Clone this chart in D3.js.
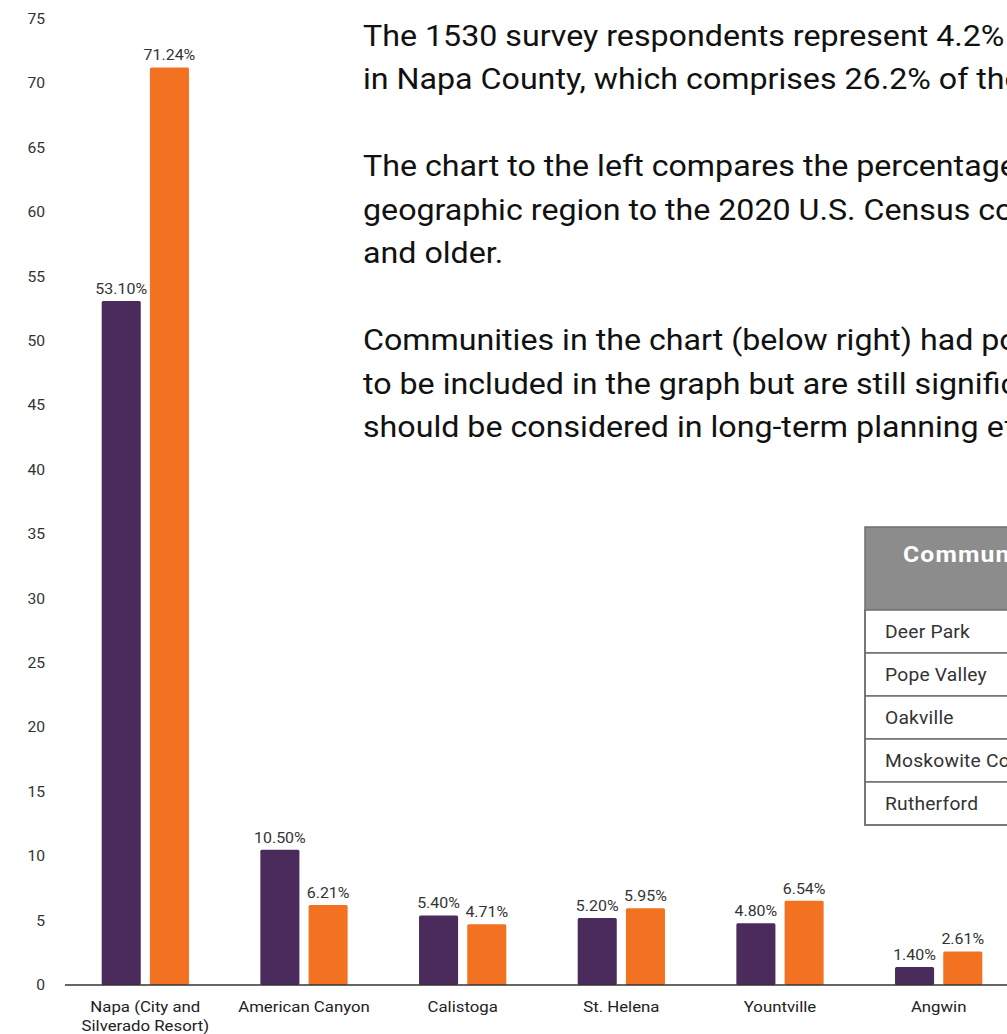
<!DOCTYPE html>
<html>
<head>
<meta charset="utf-8">
<script src="https://cdn.jsdelivr.net/npm/d3@7"></script>
<style>
  html, body { margin: 0; padding: 0; background: #ffffff; overflow: hidden; }
  svg { display: block; font-family: Roboto, "Noto Sans", sans-serif; }
</style>
</head>
<body>
<svg id="chart" width="1007" height="1034"></svg>
<script>
// Communities shown along the x axis
const categories = [
  "Napa (City and\nSilverado Resort)",
  "American Canyon",
  "Calistoga",
  "St. Helena",
  "Yountville",
  "Angwin"
];
// Share of survey respondents (%) by community
const surveyShare = [53.10, 10.50, 5.40, 5.20, 4.80, 1.40];
// Share of 2020 census population (%) by community
const censusShare = [71.24, 6.21, 4.71, 5.95, 6.54, 2.61];
const seriesNames = ["survey", "census"];
const yTicks = [0, 5, 10, 15, 20, 25, 30, 35, 40, 45, 50, 55, 60, 65, 70, 75];

// Smaller communities listed in the side table
const tableHeader = "Communities";
const tableRows = ["Deer Park", "Pope Valley", "Oakville", "Moskowite Corner", "Rutherford"];

// Explanatory paragraphs (line breaks as laid out)
const paragraphs = [
  ["The 1530 survey respondents represent 4.2% of the population aged 60 and older",
   "in Napa County, which comprises 26.2% of the county population."],
  ["The chart to the left compares the percentage of survey respondents in each",
   "geographic region to the 2020 U.S. Census count of county residents aged 60",
   "and older."],
  ["Communities in the chart (below right) had populations too small",
   "to be included in the graph but are still significant and",
   "should be considered in long-term planning efforts."]
];

const W = 1007, H = 1034;
const svg = d3.select("#chart");
const colors = { survey: "#4a2b5c", census: "#f37222" };

// Widen glyphs horizontally, keeping the anchor side fixed
function widen(sel, k, origin) {
  sel.style("transform-box", "fill-box")
     .style("transform-origin", origin + " center")
     .style("transform", `scaleX(${k})`);
}

const rows = categories.map((c, i) => ({ cat: c, survey: surveyShare[i], census: censusShare[i] }));

const y = d3.scaleLinear().domain([0, 75]).range([985, 19]);

const x = d3.scaleBand()
  .domain(categories)
  .range([66, 1018])
  .paddingInner(0.45)
  .paddingOuter(0.225);

const xSub = d3.scaleBand()
  .domain(seriesNames)
  .range([0, x.bandwidth()])
  .paddingInner(0.19);

// Y axis labels (no line, no ticks)
const yAxis = svg.append("g")
  .attr("transform", "translate(46,0)")
  .call(d3.axisLeft(y).tickValues(yTicks).tickSize(0).tickPadding(1).tickFormat(d3.format("d")));
yAxis.select(".domain").remove();
yAxis.selectAll("text")
  .attr("fill", "#333")
  .style("font-size", "14px")
  .style("font-family", "Roboto, sans-serif")
  .call(widen, 1.12, "right");

// Bars
const groups = svg.append("g").selectAll("g")
  .data(rows)
  .join("g")
  .attr("transform", d => `translate(${x(d.cat)},0)`);

groups.selectAll("rect")
  .data(d => seriesNames.map(k => ({ key: k, value: d[k] })))
  .join("rect")
  .attr("x", d => xSub(d.key))
  .attr("width", xSub.bandwidth())
  .attr("y", d => y(d.value))
  .attr("height", d => y(0) - y(d.value))
  .attr("rx", 1.5)
  .attr("fill", d => colors[d.key]);

// Value labels above each bar
groups.selectAll("text.val")
  .data(d => seriesNames.map(k => ({ key: k, value: d[k] })))
  .join("text")
  .attr("class", "val")
  .attr("x", d => xSub(d.key) + xSub.bandwidth() / 2)
  .attr("y", d => y(d.value) - 7)
  .attr("text-anchor", "middle")
  .attr("fill", "#333")
  .style("font-size", "14.5px")
  .text(d => d3.format(".2f")(d.value) + "%")
  .call(widen, 1.1, "center");

// X axis baseline and category labels
svg.append("line")
  .attr("x1", 65).attr("x2", W)
  .attr("y1", y(0)).attr("y2", y(0))
  .attr("stroke", "#333").attr("stroke-width", 1.5);

const xAxis = svg.append("g")
  .attr("transform", `translate(0,${y(0)})`)
  .call(d3.axisBottom(x).tickSize(0).tickPadding(0));
xAxis.select(".domain").remove();
xAxis.selectAll("text")
  .attr("fill", "#222")
  .attr("dy", null)
  .attr("y", 0)
  .style("font-size", "15px")
  .style("font-family", "Roboto, sans-serif")
  .each(function(d) {
    const t = d3.select(this);
    t.text(null);
    d.split("\n").forEach((line, i) => {
      t.append("tspan").attr("x", 0).attr("y", 27 + i * 19).text(line);
    });
  })
  .call(widen, 1.12, "center");

// Paragraph text
const textG = svg.append("g")
  .attr("fill", "#111")
  .style("font-size", "29px");
let baseline = 46;
paragraphs.forEach(p => {
  p.forEach(line => {
    textG.append("text").attr("x", 363).attr("y", baseline).text(line)
      .call(widen, 1.11, "left");
    baseline += 43.5;
  });
  baseline += 43.5;
});

// Side table of smaller communities
const tbl = svg.append("g").attr("transform", "translate(865,527)");
const tblW = 340, headH = 83, rowH = 43;
tbl.append("rect")
  .attr("width", tblW).attr("height", headH)
  .attr("fill", "#8c8c8c");
tbl.append("text")
  .attr("x", 38).attr("y", 35)
  .attr("fill", "#fff")
  .style("font-size", "21.5px").style("font-weight", "bold")
  .style("letter-spacing", "1px")
  .text(tableHeader)
  .call(widen, 1.15, "left");
const rowG = tbl.selectAll("g.row")
  .data(tableRows)
  .join("g")
  .attr("class", "row")
  .attr("transform", (d, i) => `translate(0,${headH + i * rowH})`);
rowG.append("rect")
  .attr("width", tblW).attr("height", rowH)
  .attr("fill", "#fff")
  .attr("stroke", "#6f6f6f").attr("stroke-width", 1.5);
rowG.append("text")
  .attr("x", 20).attr("y", 28)
  .attr("fill", "#333")
  .style("font-size", "17.5px")
  .style("letter-spacing", "0.2px")
  .text(d => d)
  .call(widen, 1.1, "left");
tbl.append("rect")
  .attr("width", tblW).attr("height", headH + rowH * tableRows.length)
  .attr("fill", "none")
  .attr("stroke", "#6f6f6f").attr("stroke-width", 1.5);
</script>
</body>
</html>
